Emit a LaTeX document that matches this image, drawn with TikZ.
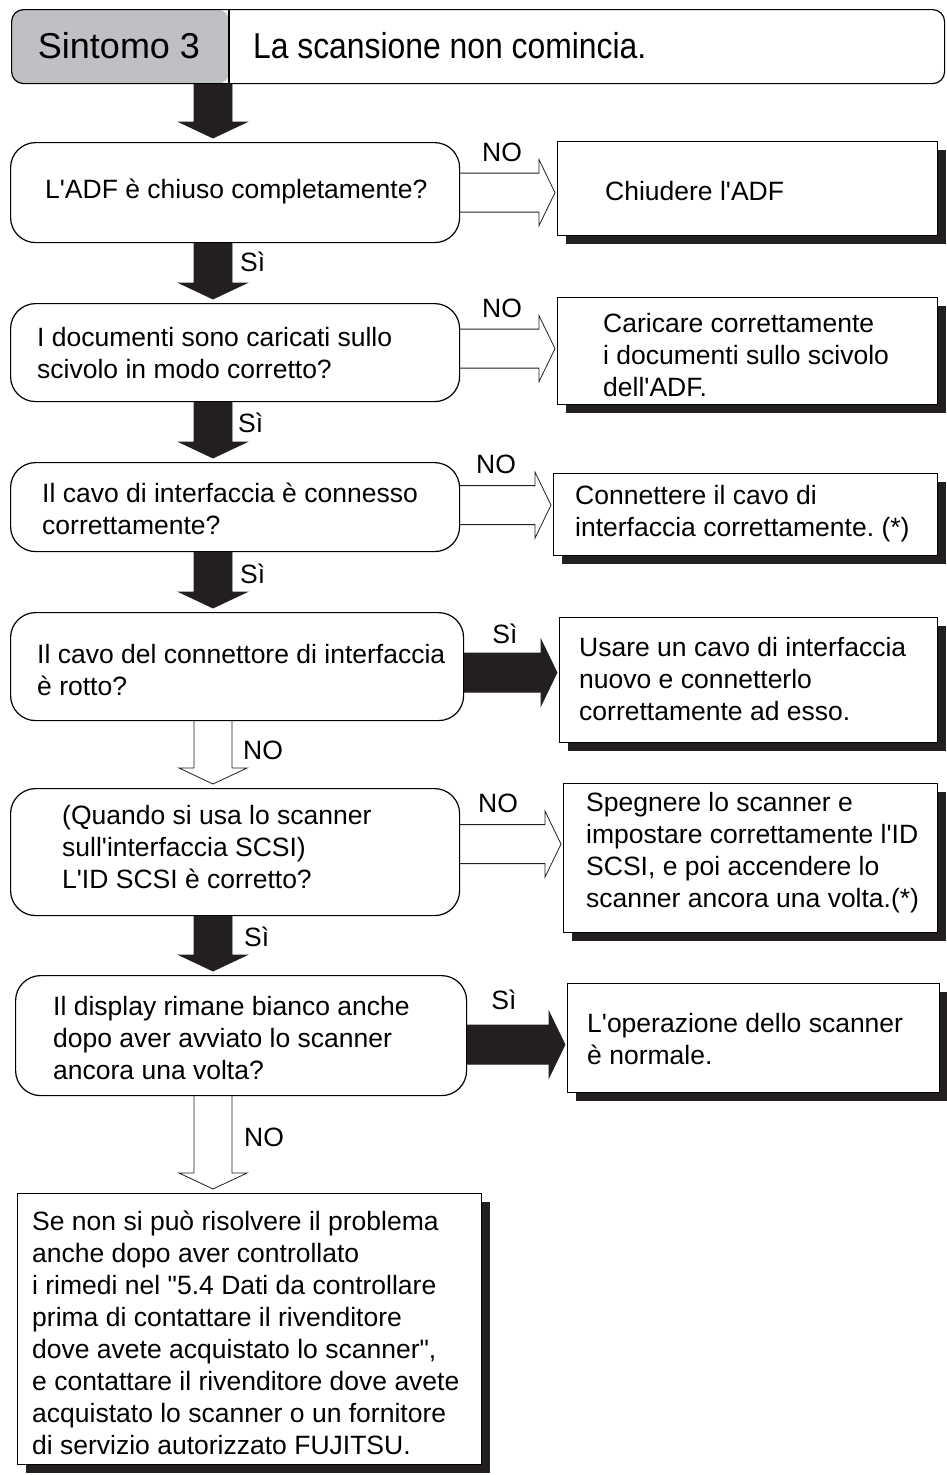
\documentclass[tikz,border=0pt]{standalone}
\usepackage{fontspec}
\setmainfont{Liberation Sans}[Ligatures=TeXOff]
\usepackage{tikz}
\usetikzlibrary{calc,positioning,shadows}
\definecolor{hdrgray}{RGB}{191,192,196}
\definecolor{shadowgray}{RGB}{35,31,32}
\newcommand{\boxfont}{\fontsize{26.5}{32}\selectfont}
\newcommand{\hdrfont}{\fontsize{36}{42}\selectfont}
\tikzstyle{question} = [rectangle, rounded corners=25pt, draw, line width=1.2pt, anchor=north west]
\tikzstyle{answer} = [rectangle, draw, line width=1.2pt, fill=white, anchor=north west, drop shadow={shadow xshift=8pt, shadow yshift=-8pt, opacity=1, fill=shadowgray}]
\tikzstyle{txt} = [anchor=west, align=left, inner sep=0pt, font=\boxfont]
\tikzstyle{lbl} = [font=\boxfont, inner sep=0pt]
\tikzstyle{yesarrow} = [draw=shadowgray, fill=shadowgray, line width=0.8pt, line join=miter]
\tikzstyle{noarrow} = [draw=shadowgray, line width=0.8pt, line join=miter]
% block arrow down the spine: style, from, to
\newcommand{\flowdown}[3]{%
  \path[#1] let \p1=(#2), \p2=(#3), \p3=(spine) in
    (\x3-19pt,\y1) -- (\x3-19pt,\y2+20pt) -- (\x3-34pt,\y2+20pt) -- (\x3,\y2+4pt)
    -- (\x3+34pt,\y2+20pt) -- (\x3+19pt,\y2+20pt) -- (\x3+19pt,\y1);}
% block arrow to the right: style, from, to
\newcommand{\flowright}[3]{%
  \path[#1] let \p1=(#2), \p2=(#3) in
    (\x1,\y1+19.5pt) -- (\x2-18pt,\y1+19.5pt) -- (\x2-18pt,\y1+33pt) -- (\x2-2pt,\y1)
    -- (\x2-18pt,\y1-33pt) -- (\x2-18pt,\y1-19.5pt) -- (\x1,\y1-19.5pt);}

\begin{document}
\frenchspacing
\begin{tikzpicture}[x=1pt, y=-1pt]
\useasboundingbox (0,0) rectangle (946,1475);

% Header
\node (hdr) [draw, line width=1.2pt, rounded corners=12pt, minimum width=933pt, minimum height=74pt, anchor=north west,
  path picture={\fill[hdrgray] (path picture bounding box.north west) rectangle ([xshift=218pt]path picture bounding box.south west);}] at (11,9) {};
\draw[line width=1.2pt] ([xshift=218pt]hdr.north west) -- ([xshift=218pt]hdr.south west);
\node (sym) [font=\hdrfont] at (119,46) {Sintomo 3};
\node (title) [font=\hdrfont, anchor=west, xscale=0.885, transform shape] at (250,46) {La scansione non comincia.};

% Questions
\node (d1) [question, minimum width=449pt, minimum height=100pt] at (10,142) {};
\node (d2) [question, minimum width=449pt, minimum height=98pt] at (10,303) {};
\node (d3) [question, minimum width=449pt, minimum height=89pt] at (10,462) {};
\node (d4) [question, minimum width=453pt, minimum height=108pt] at (10,612) {};
\node (d5) [question, minimum width=449pt, minimum height=127pt] at (10,788) {};
\node (d6) [question, minimum width=451pt, minimum height=120pt] at (15,975) {};

\node (d1t) [txt] at (45,191) {L'ADF è chiuso completamente?};
\node (d2t) [txt] at (37,353) {I documenti sono caricati sullo\\scivolo in modo corretto?};
\node (d3t) [txt] at (42,509) {Il cavo di interfaccia è connesso\\correttamente?};
\node (d4t) [txt] at (37,670) {Il cavo del connettore di interfaccia\\è rotto?};
\node (d5t) [txt] at (62,847) {(Quando si usa lo scanner\\sull'interfaccia SCSI)\\L'ID SCSI è corretto?};
\node (d6t) [txt] at (53,1038) {Il display rimane bianco anche\\dopo aver avviato lo scanner\\ancora una volta?};

% Answers
\node (a1) [answer, minimum width=380pt, minimum height=94pt] at (557,141) {};
\node (a2) [answer, minimum width=380pt, minimum height=107pt] at (557,297) {};
\node (a3) [answer, minimum width=384pt, minimum height=82pt] at (553,473) {};
\node (a4) [answer, minimum width=378pt, minimum height=125pt] at (559,617) {};
\node (a5) [answer, minimum width=374pt, minimum height=149pt] at (563,783) {};
\node (a6) [answer, minimum width=372pt, minimum height=109pt] at (567,983) {};
\node (fin) [answer, minimum width=464pt, minimum height=271pt] at (17,1193) {};

\node (a1t) [txt] at (605,191) {Chiudere l'ADF};
\node (a2t) [txt] at (603,355) {Caricare correttamente\\i documenti sullo scivolo\\dell'ADF.};
\node (a3t) [txt] at (575,514) {Connettere il cavo di\\interfaccia correttamente. (*)};
\node (a4t) [txt] at (579,679) {Usare un cavo di interfaccia\\nuovo e connetterlo\\correttamente ad esso.};
\node (a5t) [txt] at (586,853) {Spegnere lo scanner e\\impostare correttamente l'ID\\SCSI, e poi accendere lo\\scanner ancora una volta.(*)};
\node (a6t) [txt] at (587,1039) {L'operazione dello scanner\\è normale.};
\node (fint) [txt] at (32,1333) {Se non si può risolvere il problema\\anche dopo aver controllato\\i rimedi nel "5.4 Dati da controllare\\prima di contattare il rivenditore\\dove avete acquistato lo scanner",\\e contattare il rivenditore dove avete\\acquistato lo scanner o un fornitore\\di servizio autorizzato FUJITSU.};

% Flow down the left side
\coordinate (spine) at (213,0);
\flowdown{yesarrow}{hdr.south}{d1.north}
\flowdown{yesarrow}{d1.south}{d2.north}
\flowdown{yesarrow}{d2.south}{d3.north}
\flowdown{yesarrow}{d3.south}{d4.north}
\flowdown{noarrow}{d4.south}{d5.north}
\flowdown{yesarrow}{d5.south}{d6.north}
\flowdown{noarrow}{d6.south}{fin.north}

\node (s1) [lbl, anchor=west] at (240,262) {Sì};
\node (s2) [lbl, anchor=west] at (238,423) {Sì};
\node (s3) [lbl, anchor=west] at (240,574) {Sì};
\node (n4) [lbl, anchor=west] at (243,750) {NO};
\node (s5) [lbl, anchor=west] at (244,937) {Sì};
\node (n6) [lbl, anchor=west] at (244,1137) {NO};

% Branches to the right
\flowright{noarrow}{d1.east}{a1.west}
\flowright{noarrow}{[yshift=4pt]d2.east}{a2.west}
\flowright{noarrow}{[yshift=2pt]d3.east}{a3.west}
\flowright{yesarrow}{[yshift=-6pt]d4.east}{a4.west}
\flowright{noarrow}{[yshift=8pt]d5.east}{a5.west}
\flowright{yesarrow}{[yshift=-9pt]d6.east}{a6.west}

\node (n1) [lbl] at (502,152) {NO};
\node (n2) [lbl] at (502,308) {NO};
\node (n3) [lbl] at (496,464) {NO};
\node (y4) [lbl] at (505,634) {Sì};
\node (n5) [lbl] at (498,803) {NO};
\node (y6) [lbl] at (504,1000) {Sì};
\end{tikzpicture}
\end{document}
